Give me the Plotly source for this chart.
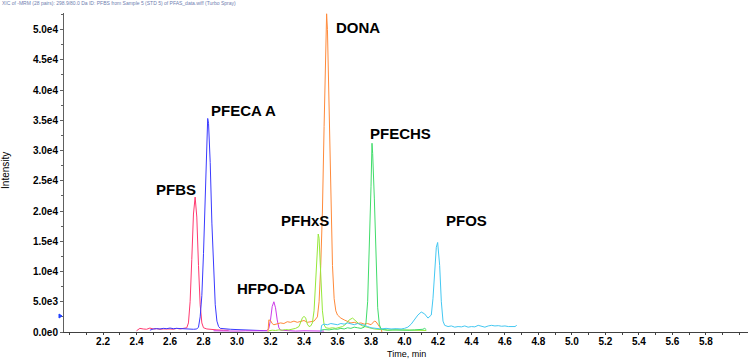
import plotly.graph_objects as go

# ---------------- data ----------------
pfbs_t = [2.40, 2.42, 2.44, 2.46, 2.48, 2.50, 2.52, 2.54, 2.56, 2.58, 2.60, 2.62, 2.64, 2.66, 2.68, 2.70,
          2.71, 2.72, 2.73, 2.74, 2.75, 2.76, 2.77, 2.78, 2.79, 2.80, 2.82, 2.85, 2.88, 2.92, 2.95]
pfbs_i = [200, 600, 500, 450, 650, 500, 550, 450, 500, 550, 500, 450, 600, 500, 550, 700,
          1500, 5000, 12000, 19500, 22300, 19000, 11000, 4500, 1500, 700, 500, 400, 350, 300, 300]

pfeca_t = [2.48, 2.50, 2.52, 2.54, 2.56, 2.58, 2.60, 2.62, 2.64, 2.66, 2.68, 2.70, 2.72, 2.74, 2.76, 2.77,
           2.78, 2.79, 2.80, 2.81, 2.82, 2.825, 2.83, 2.84, 2.85, 2.86, 2.87, 2.88, 2.89, 2.90, 2.93,
           2.96, 3.00, 3.05, 3.10, 3.15, 3.18]
pfeca_i = [300, 500, 550, 500, 600, 550, 650, 550, 600, 550, 500, 550, 500, 450, 500, 800,
           2500, 6000, 13000, 22000, 31000, 35300, 34500, 28000, 18000, 10000, 4500, 1800, 900, 600, 500,
           450, 400, 350, 300, 350, 200]

hfpo_t = [2.86, 2.90, 2.95, 3.00, 3.05, 3.10, 3.15, 3.18, 3.19, 3.20, 3.21, 3.22, 3.23, 3.24, 3.25,
          3.26, 3.30, 3.35, 3.40, 3.45, 3.50, 3.52]
hfpo_i = [200, 150, 200, 150, 200, 150, 200, 250, 600, 2000, 4200, 5000, 4000, 2000, 700,
          300, 200, 150, 200, 150, 200, 150]

dona_t = [3.185, 3.19, 3.20, 3.21, 3.22, 3.24, 3.26, 3.28, 3.30, 3.32, 3.34, 3.36, 3.38, 3.40, 3.42,
          3.44, 3.46, 3.48, 3.49, 3.50, 3.51, 3.52, 3.53, 3.535, 3.54, 3.55, 3.56, 3.57, 3.58, 3.59,
          3.60, 3.62, 3.64, 3.66, 3.68, 3.70, 3.72, 3.74, 3.76, 3.78, 3.80, 3.82, 3.83, 3.85, 3.86, 3.865]
dona_i = [0, 2000, 1900, 1400, 1200, 1300, 1500, 1400, 1700, 1600, 1800, 1600, 1700, 1900, 1600,
          1700, 1800, 2500, 5000, 11000, 20000, 34000, 47000, 52600, 50000, 38000, 22000, 11000, 5500, 3500,
          2800, 2300, 2000, 1700, 1500, 1600, 1400, 1500, 1300, 1400, 1200, 1800, 1700, 900, 500, 0]

pfhxs_t = [3.19, 3.21, 3.23, 3.25, 3.27, 3.29, 3.31, 3.33, 3.35, 3.37, 3.39, 3.40, 3.41, 3.42, 3.43,
           3.44, 3.45, 3.46, 3.47, 3.48, 3.485, 3.49, 3.50, 3.51, 3.52, 3.53, 3.55, 3.57, 3.59, 3.61,
           3.63, 3.65, 3.67, 3.69, 3.71, 3.73, 3.75, 3.77, 3.79, 3.82, 3.85, 3.90, 3.95, 4.00, 4.05,
           4.10, 4.13]
pfhxs_i = [200, 300, 250, 350, 300, 400, 350, 500, 600, 900, 2300, 2600, 2300, 1300, 900,
           1000, 1500, 3500, 8000, 14000, 16200, 15500, 9000, 3500, 1200, 700, 600, 700, 600, 800,
           900, 1300, 2000, 2300, 1800, 1300, 1000, 900, 700, 500, 400, 300, 350, 300, 350,
           300, 250]

pfechs_t = [3.50, 3.52, 3.55, 3.58, 3.60, 3.62, 3.64, 3.66, 3.68, 3.70, 3.72, 3.74, 3.76, 3.77, 3.78,
            3.79, 3.80, 3.806, 3.81, 3.82, 3.83, 3.84, 3.85, 3.86, 3.88, 3.90, 3.93, 3.96, 4.00, 4.03,
            4.06, 4.09, 4.11, 4.12, 4.13]
pfechs_i = [300, 400, 350, 500, 450, 600, 500, 700, 600, 800, 700, 600, 800, 1500, 5000,
            13000, 24000, 31200, 29500, 22000, 12000, 4000, 1200, 500, 400, 300, 350, 300, 350, 300,
            350, 400, 450, 600, 400]

pfos_t = [3.50, 3.505, 3.52, 3.54, 3.56, 3.58, 3.60, 3.62, 3.64, 3.66, 3.68, 3.70, 3.72, 3.74, 3.76,
          3.78, 3.80, 3.83, 3.86, 3.89, 3.92, 3.95, 3.98, 4.00, 4.02, 4.04, 4.06, 4.08, 4.10, 4.12,
          4.14, 4.16, 4.17, 4.18, 4.19, 4.198, 4.21, 4.22, 4.23, 4.24, 4.26, 4.28, 4.30, 4.32, 4.34,
          4.36, 4.38, 4.40, 4.42, 4.44, 4.46, 4.48, 4.50, 4.52, 4.54, 4.56, 4.58, 4.60, 4.62, 4.64,
          4.66, 4.67]
pfos_i = [0, 1100, 1300, 1200, 1400, 1300, 1200, 1400, 1300, 1500, 1300, 1200, 1400, 1300, 1100,
          900, 700, 600, 500, 600, 500, 550, 500, 600, 800, 1300, 2000, 2800, 3300, 3000,
          2300, 2800, 5500, 10000, 14000, 14800, 11000, 5000, 1800, 1100, 900, 1000, 800, 900, 850,
          1000, 800, 900, 850, 1100, 900, 800, 1000, 1100, 1000, 1050, 950, 1000, 900, 850,
          900, 1100]

series_names = ["PFBS", "PFECA A", "HFPO-DA", "DONA", "PFHxS", "PFECHS", "PFOS"]
series_t = [pfbs_t, pfeca_t, hfpo_t, dona_t, pfhxs_t, pfechs_t, pfos_t]
series_i = [pfbs_i, pfeca_i, hfpo_i, dona_i, pfhxs_i, pfechs_i, pfos_i]

# peak label anchor points (time, intensity)
label_t = [2.504, 2.833, 2.988, 3.579, 3.251, 3.782, 4.236]
label_i = [23550, 36600, 7270, 50330, 18430, 32760, 18430]

x_ticks = [2.2, 2.4, 2.6, 2.8, 3.0, 3.2, 3.4, 3.6, 3.8, 4.0, 4.2, 4.4, 4.6, 4.8, 5.0, 5.2, 5.4, 5.6, 5.8]
y_ticks = [0, 5000, 10000, 15000, 20000, 25000, 30000, 35000, 40000, 45000, 50000]
y_tick_text = ["0.0e0", "5.0e3", "1.0e4", "1.5e4", "2.0e4", "2.5e4", "3.0e4", "3.5e4", "4.0e4", "4.5e4", "5.0e4"]

# ---------------- style ----------------
colors = ["#ff3a70", "#3a3aff", "#cc3ae8", "#ff8a3a", "#96e83a", "#40dc6a", "#44c8f2"]
FONT = "Liberation Sans, Arial, sans-serif"

fig = go.Figure()
for name, t, i, c in zip(series_names, series_t, series_i, colors):
    fig.add_trace(go.Scatter(x=t, y=i, mode="lines", name=name,
                             line=dict(color=c, width=1), hoverinfo="skip"))

for name, t, i in zip(series_names, label_t, label_i):
    fig.add_annotation(x=t, y=i, xref="x", yref="y", text=name, showarrow=False,
                       xanchor="left", yanchor="middle",
                       font=dict(family=FONT, size=15, color="black", weight="bold"))

# header line (tiny text)
fig.add_annotation(x=0, y=1.031, xref="paper", yref="paper", xanchor="left", yanchor="middle",
                   xshift=-64, showarrow=False,
                   text="XIC of -MRM (28 pairs): 298.9/80.0 Da ID: PFBS from Sample 5 (STD 5) of PFAS_data.wiff (Turbo Spray)",
                   font=dict(family=FONT, size=5, color="#7080b0"))

# axis titles
fig.add_annotation(x=0, y=0.505, xref="paper", yref="paper", xshift=-58, textangle=-90,
                   text="Intensity", showarrow=False, xanchor="center", yanchor="middle",
                   font=dict(family=FONT, size=10, color="black"))
fig.add_annotation(x=0.5, y=0, xref="paper", yref="paper", yshift=-22,
                   text="Time, min", showarrow=False, xanchor="center", yanchor="middle",
                   font=dict(family=FONT, size=9, color="black"))

# small blue marker on the y axis
fig.add_shape(type="path", xref="paper", yref="y", xsizemode="pixel", ysizemode="pixel",
              xanchor=0, yanchor=2640, path="M -5 -2 L -2 0 L -5 2 Z",
              fillcolor="#2040ff", line=dict(color="#2040ff", width=1))

fig.update_layout(
    width=750, height=360,
    margin=dict(l=64, r=2, t=13, b=28),
    paper_bgcolor="white", plot_bgcolor="white",
    showlegend=False,
    font=dict(family=FONT, size=10, color="black"),
)
fig.update_xaxes(
    range=[1.967, 6.051], showgrid=False, zeroline=False,
    showline=True, linecolor="#404040", linewidth=1,
    tickmode="array", tickvals=x_ticks, ticktext=[f"{v:.1f}" for v in x_ticks],
    ticks="outside", ticklen=2, tickcolor="#404040", ticklabelstandoff=-2,
    minor=dict(dtick=0.1, tick0=2.0, ticks="outside", ticklen=2, tickcolor="#404040"),
    tickfont=dict(family=FONT, size=10, color="black", weight="bold"),
)
fig.update_yaxes(
    range=[0, 52730], showgrid=False, zeroline=False,
    showline=True, linecolor="#606060", linewidth=1,
    tickmode="array", tickvals=y_ticks, ticktext=y_tick_text,
    ticks="outside", ticklen=3, tickcolor="#606060",
    minor=dict(dtick=2500, tick0=0, ticks="outside", ticklen=2, tickcolor="#606060"),
    tickfont=dict(family=FONT, size=10, color="black", weight="bold"),
)

fig.write_html("out.html")
